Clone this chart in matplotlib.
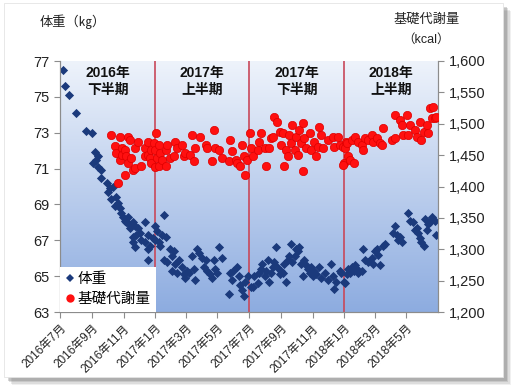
import numpy as np
import pandas as pd
import matplotlib
matplotlib.use("Agg")
import matplotlib.pyplot as plt
from matplotlib.patches import FancyBboxPatch
from matplotlib.lines import Line2D

plt.rcParams['font.family'] = ['Liberation Sans', 'Noto Sans CJK JP', 'DejaVu Sans']

# data: days since 2016-07-01
start = pd.Timestamp('2016-07-01')

weight_day = [6, 10, 17, 31, 51, 62, 64, 67, 69, 73, 73, 79, 80, 91, 93, 96, 99, 102, 106, 109,
              112, 115, 118, 122, 125, 128, 131, 133, 136, 141, 141, 141, 144, 144, 147, 151, 154, 157, 164, 164,
              169, 170, 170, 173, 180, 183, 184, 187, 191, 194, 197, 200, 200, 204, 207, 213, 216, 216, 220, 223,
              226, 229, 236, 239, 242, 245, 249, 255, 258, 261, 265, 268, 274, 278, 281, 284, 290, 294, 297, 300,
              303, 307, 313, 326, 329, 332, 335, 342, 345, 348, 352, 355, 358, 364, 368, 372, 375, 382, 385, 388,
              391, 395, 398, 401, 404, 408, 411, 414, 417, 420, 424, 427, 430, 433, 437, 440, 443, 446, 449, 453,
              456, 459, 462, 465, 469, 472, 475, 478, 482, 485, 488, 491, 494, 501, 504, 511, 517, 523, 527, 530,
              533, 540, 543, 549, 550, 554, 557, 560, 563, 567, 570, 573, 576, 583, 586, 589, 595, 602, 605, 608,
              612, 615, 618, 624, 628, 644, 647, 650, 653, 657, 660, 673, 676, 682, 686, 689, 692, 695, 698, 702,
              705, 708, 711, 715, 718, 724, 727]
weight_kg = [76.5, 75.6, 75.1, 74.1, 73.1, 73.0, 71.3, 71.9, 71.5, 71.7, 71.1, 70.5, 70.9, 70.2, 69.7, 69.9, 69.3, 70.0, 68.9, 69.4,
             69.1, 68.8, 68.5, 68.3, 68.1, 68.0, 68.3, 67.9, 67.7, 68.0, 67.2, 66.9, 67.8, 66.6, 67.3, 67.7, 67.4, 67.0, 68.0, 66.9,
             66.5, 67.3, 65.9, 66.7, 67.1, 67.8, 67.0, 67.5, 66.9, 66.7, 67.3, 68.4, 65.9, 67.2, 65.8, 66.5, 66.1, 65.3, 66.4, 65.7,
             65.2, 65.9, 65.5, 65.1, 64.9, 65.3, 65.2, 66.1, 65.4, 64.8, 66.5, 66.3, 66.0, 65.5, 65.9, 65.3, 65.1, 64.9, 65.9, 65.4,
             65.2, 66.6, 66.0, 64.0, 65.2, 64.8, 65.3, 65.5, 65.0, 64.5, 64.2, 63.9, 64.7, 65.0, 64.4, 64.4, 65.0, 64.6, 65.2, 65.4,
             65.7, 65.0, 65.3, 65.9, 64.7, 65.2, 65.5, 65.8, 66.6, 65.5, 65.1, 65.3, 65.2, 65.7, 64.7, 65.9, 66.1, 66.8, 65.8, 66.1,
             66.5, 66.4, 66.6, 65.7, 65.0, 65.9, 65.6, 65.4, 65.2, 65.5, 65.0, 65.3, 65.1, 65.5, 64.9, 65.2, 64.8, 65.7, 65.0, 64.3,
             64.7, 65.3, 65.2, 64.7, 64.6, 65.1, 65.4, 65.2, 65.5, 65.3, 65.6, 65.4, 65.2, 65.3, 66.5, 65.9, 65.8, 66.0, 65.7, 66.4,
             66.5, 66.2, 65.6, 66.7, 66.8, 67.4, 67.8, 67.3, 67.0, 67.2, 66.9, 68.5, 68.1, 68.0, 67.6, 67.7, 67.4, 67.1, 66.9, 66.7,
             68.2, 67.6, 67.9, 68.0, 68.3, 68.1, 67.3]

bmr_day = [99, 106, 109, 112, 115, 115, 119, 119, 125, 125, 128, 131, 131, 135, 138, 141, 144, 144, 151, 157,
           164, 164, 170, 170, 173, 176, 176, 183, 185, 181, 184, 187, 191, 191, 194, 197, 204, 204, 207, 213,
           220, 223, 226, 236, 239, 242, 252, 255, 258, 261, 271, 281, 284, 294, 297, 300, 307, 313, 326, 329,
           332, 339, 342, 348, 352, 355, 358, 361, 366, 368, 372, 382, 385, 388, 395, 398, 404, 408, 411, 414,
           420, 424, 427, 430, 433, 437, 440, 443, 446, 449, 453, 456, 459, 462, 465, 469, 469, 472, 475, 482,
           485, 491, 494, 498, 501, 504, 507, 517, 527, 530, 536, 540, 546, 549, 552, 550, 554, 547, 557, 560,
           567, 563, 570, 576, 583, 586, 589, 595, 602, 605, 612, 618, 621, 624, 641, 647, 647, 657, 660, 663,
           670, 673, 676, 686, 689, 695, 698, 702, 708, 711, 715, 718, 721, 724, 727]
bmr_kcal = [1482, 1465, 1453, 1406, 1479, 1442, 1462, 1450, 1458, 1418, 1448, 1479, 1437, 1474, 1445, 1426, 1461, 1429, 1471, 1433,
            1462, 1448, 1471, 1450, 1445, 1458, 1437, 1431, 1486, 1469, 1458, 1445, 1466, 1432, 1453, 1442, 1432, 1458, 1466, 1445,
            1448, 1471, 1461, 1466, 1448, 1453, 1450, 1482, 1440, 1462, 1479, 1466, 1461, 1440, 1490, 1461, 1458, 1445, 1440, 1474,
            1456, 1442, 1437, 1432, 1466, 1448, 1418, 1442, 1485, 1461, 1448, 1458, 1471, 1485, 1461, 1433, 1462, 1477, 1479, 1511,
            1503, 1487, 1466, 1485, 1432, 1458, 1448, 1482, 1469, 1498, 1458, 1479, 1450, 1490, 1469, 1501, 1424, 1477, 1461, 1485,
            1458, 1471, 1448, 1463, 1495, 1482, 1461, 1474, 1479, 1463, 1479, 1466, 1463, 1437, 1471, 1461, 1469, 1434, 1448, 1442,
            1437, 1474, 1479, 1471, 1466, 1458, 1477, 1474, 1482, 1471, 1477, 1469, 1466, 1493, 1474, 1477, 1514, 1506, 1498, 1482,
            1514, 1482, 1498, 1490, 1479, 1503, 1474, 1487, 1498, 1485, 1525, 1509, 1527, 1509, 1511]

tick_dates = ['2016-07-01', '2016-09-01', '2016-11-01', '2017-01-01', '2017-03-01', '2017-05-01',
              '2017-07-01', '2017-09-01', '2017-11-01', '2018-01-01', '2018-03-01', '2018-05-01']
tick_labels = ['2016年7月', '2016年9月', '2016年11月', '2017年1月', '2017年3月', '2017年5月',
               '2017年7月', '2017年9月', '2017年11月', '2018年1月', '2018年3月', '2018年5月']
split_dates = ['2017-01-01', '2017-07-01', '2018-01-01']
period_labels = ['2016年\n下半期', '2017年\n上半期', '2017年\n下半期', '2018年\n上半期']
period_mids = ['2016-10-01', '2017-04-01', '2017-10-01', '2018-04-01']

w_dates = start + pd.to_timedelta(weight_day, unit='D')
b_dates = start + pd.to_timedelta(bmr_day, unit='D')

fig = plt.figure(figsize=(5.18, 3.92), dpi=100)
fig.patch.set_facecolor('white')

# card with soft shadow
W, H = 518, 392
for i, a in enumerate([0.10, 0.14, 0.20, 0.28]):
    off = 8 - i * 1.5
    fig.patches.append(FancyBboxPatch((4 / W + off / W, 1 - (377 + off) / H), 499 / W, 374 / H,
                                      boxstyle='square,pad=0', transform=fig.transFigure,
                                      facecolor='#707070', edgecolor='none', alpha=a, zorder=0))
fig.patches.append(FancyBboxPatch((4 / W, 1 - 377 / H), 499 / W, 374 / H, boxstyle='square,pad=0',
                                  transform=fig.transFigure, facecolor='white',
                                  edgecolor='#e4e4e4', lw=0.6, zorder=1))

ax = fig.add_axes([60 / W, 1 - 312 / H, 378 / W, 251 / H])
ax.set_facecolor('none')
ax.set_zorder(2)

# gradient plot background
grad = np.linspace(0, 1, 256).reshape(-1, 1)
top = np.array([238, 243, 251]) / 255
bot = np.array([141, 172, 224]) / 255
img = top + (bot - top) * grad[:, :, None]
ax.imshow(img, extent=[0, 1, 0, 1], transform=ax.transAxes, aspect='auto', zorder=0)

x0, x1 = pd.Timestamp('2016-07-01'), pd.Timestamp('2018-07-01')
ax.set_xlim(x0, x1)
ax.set_ylim(63, 77)
ax.set_yticks(np.arange(63, 78, 2))

for d in split_dates:
    ax.axvline(pd.Timestamp(d), color='#c8485a', lw=1.2, zorder=1)

ax.scatter(w_dates, weight_kg, marker='D', s=22, color='#1b3a7c', linewidths=0, zorder=3)

ax2 = ax.twinx()
ax2.set_ylim(1200, 1600)
ax2.set_yticks(np.arange(1200, 1601, 50))
ax2.set_yticklabels([f'{v:,}' for v in range(1200, 1601, 50)])
ax2.scatter(b_dates, bmr_kcal, marker='o', s=36, color='#ff1010', edgecolors='#dd0000',
            linewidths=0.5, zorder=3)

ax.set_xticks([pd.Timestamp(d) for d in tick_dates])
ax.set_xticklabels(tick_labels, rotation=45, ha='right', rotation_mode='anchor', fontsize=8.5)

for a in (ax, ax2):
    a.spines['top'].set_visible(False)
    for s in ('left', 'right', 'bottom'):
        a.spines[s].set_color('#8c8c8c')
    a.tick_params(colors='#8c8c8c', labelcolor='#222222', length=4, width=0.8)
ax.tick_params(axis='y', labelsize=10.5)
ax2.tick_params(axis='y', labelsize=10.5)

for lab, mid in zip(period_labels, period_mids):
    ax.text(pd.Timestamp(mid), 75.85, lab, ha='center', va='center', fontsize=10,
            fontweight='semibold', color='#111111', linespacing=1.3, zorder=4)

fig.text(40 / W, 1 - 22 / H, '体重（㎏）', fontsize=9.5, color='#222222', va='center', ha='left')
fig.text(427 / W, 1 - 20 / H, '基礎代謝量', fontsize=9.5, color='#222222', va='center', ha='center')
fig.text(426 / W, 1 - 40 / H, '（kcal）', fontsize=9, color='#222222', va='center', ha='center')

handles = [Line2D([], [], marker='D', ls='none', color='#1b3a7c', markersize=4, markeredgewidth=0),
           Line2D([], [], marker='o', ls='none', color='#ff1010', markersize=6, markeredgewidth=0)]
leg = ax2.legend(handles, ['体重', '基礎代謝量'], loc='lower left', bbox_to_anchor=(0, 0),
                 frameon=True, fancybox=False, framealpha=1, edgecolor='white', facecolor='white',
                 fontsize=10.5, handlelength=0.6, handletextpad=0.2, borderpad=0.4,
                 labelspacing=0.4, borderaxespad=0)
leg.get_frame().set_linewidth(0)

fig.savefig('out.png', dpi=100)
